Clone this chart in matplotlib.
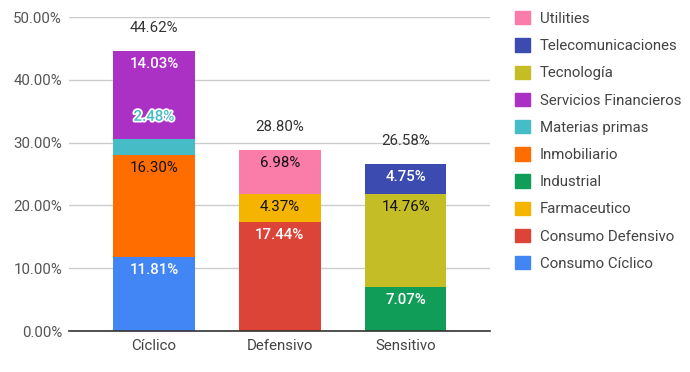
#!/usr/bin/env python3

import numpy as np
import matplotlib.pyplot as plt
import matplotlib.patheffects as pe
from matplotlib.patches import Patch

plt.rcParams['font.family'] = ['Roboto', 'DejaVu Sans']

categories = ['Cíclico', 'Defensivo', 'Sensitivo']
totals = [44.62, 28.80, 26.58]

# (sector, category index, value), stacked bottom to top
segments = [
    ('Consumo Cíclico', 0, 11.81),
    ('Inmobiliario', 0, 16.30),
    ('Materias primas', 0, 2.48),
    ('Servicios Financieros', 0, 14.03),
    ('Consumo Defensivo', 1, 17.44),
    ('Farmaceutico', 1, 4.37),
    ('Utilities', 1, 6.98),
    ('Industrial', 2, 7.07),
    ('Tecnología', 2, 14.76),
    ('Telecomunicaciones', 2, 4.75),
]

legend_order = ['Utilities', 'Telecomunicaciones', 'Tecnología', 'Servicios Financieros',
                'Materias primas', 'Inmobiliario', 'Industrial', 'Farmaceutico',
                'Consumo Defensivo', 'Consumo Cíclico']

colors = {
    'Consumo Cíclico': '#4285F4',
    'Consumo Defensivo': '#DB4437',
    'Farmaceutico': '#F4B400',
    'Industrial': '#0F9D58',
    'Materias primas': '#46BDC6',
    'Inmobiliario': '#FF6D01',
    'Servicios Financieros': '#AB30C4',
    'Tecnología': '#C4BD26',
    'Telecomunicaciones': '#3B4BAF',
    'Utilities': '#F97CA9',
}
text_dark = {'Inmobiliario', 'Farmaceutico', 'Utilities', 'Tecnología'}


def main():
    fig = plt.figure(figsize=(6.9, 3.72), dpi=100)
    ax = fig.add_axes([0.1, 0.11, 0.61, 0.844])

    fs = 10.8
    x = np.arange(len(categories))
    bottoms = np.zeros(len(categories))
    px_per_unit = 0.844 * 372 / 50.0

    for name, ci, val in segments:
        b = bottoms[ci]
        ax.bar(x[ci], val, 0.65, bottom=b, color=colors[name], zorder=2)
        top = b + val
        label = '%.2f%%' % val
        if val * px_per_unit < 20:
            # too small: put the label above the segment with a white outline
            ax.annotate(label, (x[ci], top), xytext=(0, 16), textcoords='offset points',
                        ha='center', va='center', fontsize=fs, color=colors[name],
                        fontweight='medium',
                        path_effects=[pe.withStroke(linewidth=2.5, foreground='white')],
                        zorder=4)
        elif name in text_dark:
            ax.annotate(label, (x[ci], top), xytext=(0, -9.5), textcoords='offset points',
                        ha='center', va='center', fontsize=fs, color='#111111', zorder=4)
        else:
            ax.annotate(label, (x[ci], top), xytext=(0, -9.5), textcoords='offset points',
                        ha='center', va='center', fontsize=fs, color='white',
                        fontweight='medium', zorder=4)
        bottoms[ci] = top

    for i, t in enumerate(totals):
        ax.annotate('%.2f%%' % t, (x[i], bottoms[i]), xytext=(0, 16.5), textcoords='offset points',
                    ha='center', va='center', fontsize=fs, color='#333333')

    ax.set_xlim(-0.675, 2.67)
    ax.set_ylim(0, 50)
    ax.set_yticks(np.arange(0, 51, 10))
    ax.set_yticklabels(['%.2f%%' % v for v in np.arange(0, 51, 10)])
    ax.set_xticks(x)
    ax.set_xticklabels(categories)
    ax.tick_params(axis='both', length=0, labelsize=fs, colors='#555555')
    ax.tick_params(axis='x', colors='#444444', pad=6)
    ax.tick_params(axis='y', pad=5)
    ax.yaxis.grid(True, color='#cccccc', linewidth=1, zorder=0)
    for s in ['top', 'right', 'left']:
        ax.spines[s].set_visible(False)
    ax.spines['bottom'].set_color('#333333')
    ax.spines['bottom'].set_linewidth(1.2)
    ax.spines['bottom'].set_zorder(3)

    handles = [Patch(facecolor=colors[n], edgecolor=colors[n]) for n in legend_order]
    fig.legend(handles, legend_order, loc='upper left', bbox_to_anchor=(0.736, 0.99),
               frameon=False, fontsize=fs, labelcolor='#444444', handlelength=1.0,
               handleheight=0.98, handletextpad=0.62, labelspacing=0.83, borderpad=0)

    plt.savefig('out.png', dpi=100)


if __name__ == '__main__':
    main()
